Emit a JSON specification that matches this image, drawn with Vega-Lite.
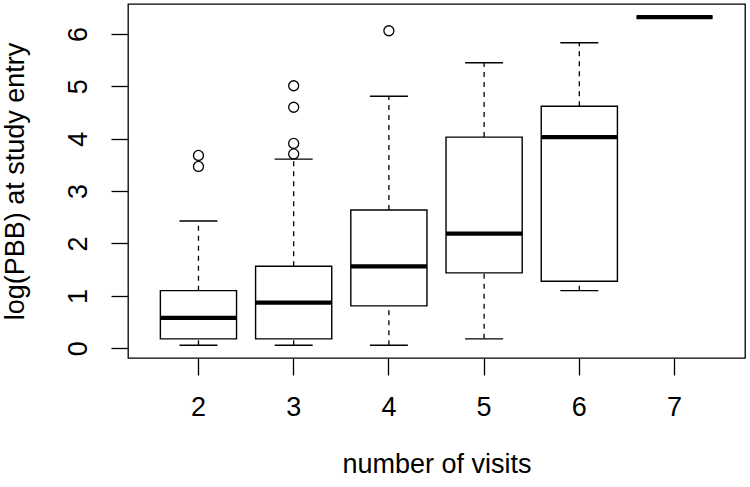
{
  "$schema": "https://vega.github.io/schema/vega-lite/v6.json",
  "width": 617,
  "height": 354,
  "autosize": {"type": "none"},
  "padding": {"left": 128, "top": 4, "right": 5, "bottom": 129},
  "background": "white",
  "config": {
    "view": {"stroke": "black", "strokeWidth": 1.3},
    "font": "Liberation Sans",
    "axis": {"grid": false, "domain": false, "tickColor": "black", "tickWidth": 1.3, "labelColor": "black", "titleColor": "black", "labelFont": "Liberation Sans", "titleFont": "Liberation Sans", "titleFontWeight": "normal"}
  },
  "datasets": {
    "boxes": [
      {"visits": "2", "lw": 0.057, "q1": 0.18, "med": 0.58, "q3": 1.10, "uw": 2.43},
      {"visits": "3", "lw": 0.057, "q1": 0.18, "med": 0.87, "q3": 1.565, "uw": 3.61},
      {"visits": "4", "lw": 0.057, "q1": 0.81, "med": 1.565, "q3": 2.64, "uw": 4.81},
      {"visits": "5", "lw": 0.18, "q1": 1.44, "med": 2.19, "q3": 4.03, "uw": 5.45},
      {"visits": "6", "lw": 1.10, "q1": 1.28, "med": 4.03, "q3": 4.62, "uw": 5.83},
      {"visits": "7", "lw": 6.32, "q1": 6.32, "med": 6.32, "q3": 6.32, "uw": 6.32}
    ],
    "outliers": [
      {"visits": "2", "value": 3.47},
      {"visits": "2", "value": 3.68},
      {"visits": "3", "value": 3.71},
      {"visits": "3", "value": 3.91},
      {"visits": "3", "value": 4.60},
      {"visits": "3", "value": 5.01},
      {"visits": "4", "value": 6.06}
    ]
  },
  "layer": [
    {
      "data": {"name": "boxes"},
      "mark": {"type": "rule", "strokeDash": [5, 5], "strokeWidth": 1.3, "color": "black"},
      "encoding": {
        "x": {
          "field": "visits", "type": "ordinal",
          "sort": ["2", "3", "4", "5", "6", "7"],
          "scale": {"domain": ["2", "3", "4", "5", "6", "7"], "paddingInner": 0, "paddingOuter": 0.24},
          "axis": {"title": "number of visits", "labelAngle": 0, "tickSize": 17, "labelFontSize": 27, "labelPadding": 19, "labelBaseline": "top", "titleFontSize": 27, "titleY": 106, "titleBaseline": "middle"}
        },
        "y": {
          "field": "lw", "type": "quantitative",
          "scale": {"domain": [-0.185, 6.57], "nice": false, "zero": false},
          "axis": {"title": "log(PBB) at study entry", "values": [0, 1, 2, 3, 4, 5, 6], "tickSize": 17, "labelAngle": -90, "labelAlign": "center", "labelBaseline": "middle", "labelFontSize": 27, "labelPadding": 33, "titleFontSize": 27, "titleAngle": -90, "titleX": -113, "titleY": 177, "titleAlign": "center", "titleBaseline": "middle"}
        },
        "y2": {"field": "q1"}
      }
    },
    {
      "data": {"name": "boxes"},
      "mark": {"type": "rule", "strokeDash": [5, 5], "strokeWidth": 1.3, "color": "black"},
      "encoding": {
        "x": {"field": "visits", "type": "ordinal"},
        "y": {"field": "q3", "type": "quantitative"},
        "y2": {"field": "uw"}
      }
    },
    {
      "data": {"name": "boxes"},
      "mark": {"type": "tick", "size": 38, "thickness": 1.4, "color": "black", "opacity": 1},
      "encoding": {
        "x": {"field": "visits", "type": "ordinal"},
        "y": {"field": "lw", "type": "quantitative"}
      }
    },
    {
      "data": {"name": "boxes"},
      "mark": {"type": "tick", "size": 38, "thickness": 1.4, "color": "black", "opacity": 1},
      "encoding": {
        "x": {"field": "visits", "type": "ordinal"},
        "y": {"field": "uw", "type": "quantitative"}
      }
    },
    {
      "data": {"name": "boxes"},
      "mark": {"type": "bar", "width": {"band": 0.8}, "fill": "white", "stroke": "black", "strokeWidth": 1.4},
      "encoding": {
        "x": {"field": "visits", "type": "ordinal"},
        "y": {"field": "q1", "type": "quantitative"},
        "y2": {"field": "q3"}
      }
    },
    {
      "data": {"name": "boxes"},
      "mark": {"type": "tick", "size": 76, "thickness": 4.3, "color": "black", "opacity": 1},
      "encoding": {
        "x": {"field": "visits", "type": "ordinal"},
        "y": {"field": "med", "type": "quantitative"}
      }
    },
    {
      "data": {"name": "outliers"},
      "mark": {"type": "point", "shape": "circle", "filled": false, "size": 100, "stroke": "black", "strokeWidth": 1.3, "opacity": 1},
      "encoding": {
        "x": {"field": "visits", "type": "ordinal"},
        "y": {"field": "value", "type": "quantitative"}
      }
    }
  ]
}
